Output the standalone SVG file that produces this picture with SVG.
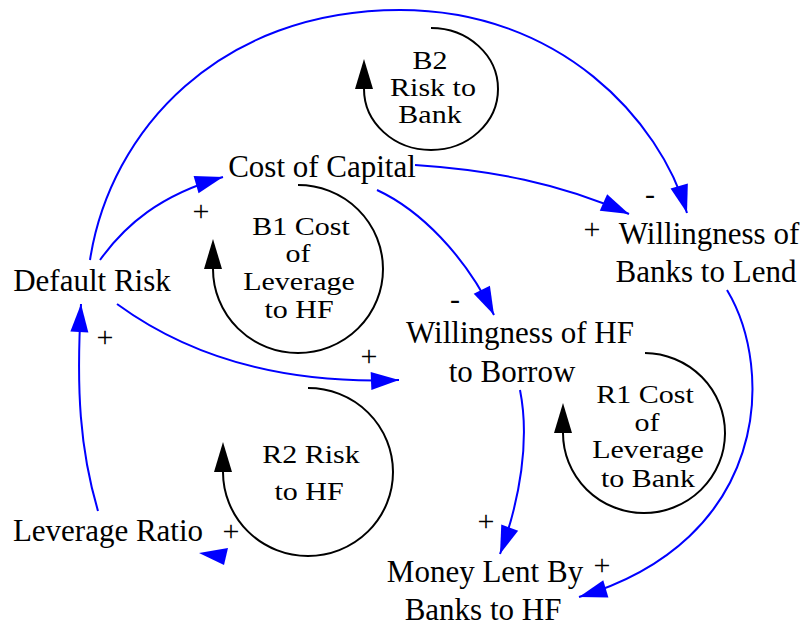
<svg xmlns="http://www.w3.org/2000/svg" width="804" height="626" viewBox="0 0 804 626">
<style>
text{font-family:"Liberation Serif","Times New Roman",serif;fill:#000}
.lbl{font-size:31px;text-anchor:middle}
.loop{font-size:25px;text-anchor:middle}
.sign{font-size:30px;text-anchor:middle}
.link{fill:none;stroke:#0000ff;stroke-width:2;marker-end:url(#ah)}
.arc{fill:none;stroke:#000;stroke-width:2;marker-end:url(#lh)}
</style>
<defs>
<marker id="ah" markerUnits="userSpaceOnUse" markerWidth="30" markerHeight="20" refX="28" refY="9" orient="auto" overflow="visible"><path d="M0,0 L28,9 L0,18 z" fill="#0000ff"/></marker>
<marker id="lh" markerUnits="userSpaceOnUse" markerWidth="30" markerHeight="20" refX="0" refY="9" orient="auto" overflow="visible"><path d="M0,0 L30,9 L0,18 z" fill="#000"/></marker>
</defs>
<rect width="804" height="626" fill="#fff"/>
<g id="connectors">
<path class="link" d="M100 260 C125 225 160 195 223 177"/>
<path class="link" d="M90 260 C110 130 220 10 400 10 C560 10 660 120 687 213"/>
<path class="link" d="M415 165 C490 170 560 183 629 214"/>
<path class="link" d="M377 190 C420 210 465 255 494 315"/>
<path class="link" d="M117 304 C180 350 270 385 399 380"/>
<path class="link" d="M98 511 C80 450 76 390 81 304"/>
<path class="link" d="M520 390 C530 440 520 500 500 554"/>
<path class="link" d="M727 290 C775 370 770 540 579 597"/>
<polygon points="199,553 228,548 224,565" fill="#0000ff"/>
<text class="sign" x="201" y="221">+</text>
<text class="sign" x="650" y="204">-</text>
<text class="sign" x="592" y="239">+</text>
<text class="sign" x="455" y="309">-</text>
<text class="sign" x="369" y="366">+</text>
<text class="sign" x="105" y="347">+</text>
<text class="sign" x="486" y="531">+</text>
<text class="sign" x="602" y="575">+</text>
<text class="sign" x="231" y="541">+</text>
</g>
<g id="default-risk"><text class="lbl" x="92" y="291">Default Risk</text></g>
<g id="cost-of-capital"><text class="lbl" x="322" y="177">Cost of Capital</text></g>
<g id="willingness-banks"><text class="lbl" x="709" y="244">Willingness of</text><text class="lbl" x="706" y="282">Banks to Lend</text></g>
<g id="willingness-hf"><text class="lbl" x="520" y="343">Willingness of HF</text><text class="lbl" x="512" y="382">to Borrow</text></g>
<g id="leverage-ratio"><text class="lbl" x="108" y="541">Leverage Ratio</text></g>
<g id="money-lent"><text class="lbl" x="485" y="582">Money Lent By</text><text class="lbl" x="483" y="620">Banks to HF</text></g>
<g id="loop-b2">
<path class="arc" d="M431 28 A67 61 0 1 1 364 89"/>
<text class="loop" transform="translate(430 69) scale(1.2 1)">B2</text>
<text class="loop" transform="translate(433 96) scale(1.2 1)">Risk to</text>
<text class="loop" transform="translate(430 123) scale(1.2 1)">Bank</text>
</g>
<g id="loop-b1">
<path class="arc" d="M298 185 A85 84 0 1 1 213 269"/>
<text class="loop" transform="translate(301 235) scale(1.2 1)">B1 Cost</text>
<text class="loop" transform="translate(298 262) scale(1.2 1)">of</text>
<text class="loop" transform="translate(299 290) scale(1.2 1)">Leverage</text>
<text class="loop" transform="translate(299 318) scale(1.2 1)">to HF</text>
</g>
<g id="loop-r2">
<path class="arc" d="M308 388 A85 84 0 1 1 223 472"/>
<text class="loop" transform="translate(311 463) scale(1.2 1)">R2 Risk</text>
<text class="loop" transform="translate(309 500) scale(1.2 1)">to HF</text>
</g>
<g id="loop-r1">
<path class="arc" d="M645 353 A81 80 0 1 1 563 433"/>
<text class="loop" transform="translate(645 403) scale(1.2 1)">R1 Cost</text>
<text class="loop" transform="translate(647 431) scale(1.2 1)">of</text>
<text class="loop" transform="translate(648 458) scale(1.2 1)">Leverage</text>
<text class="loop" transform="translate(648 487) scale(1.2 1)">to Bank</text>
</g>
</svg>
